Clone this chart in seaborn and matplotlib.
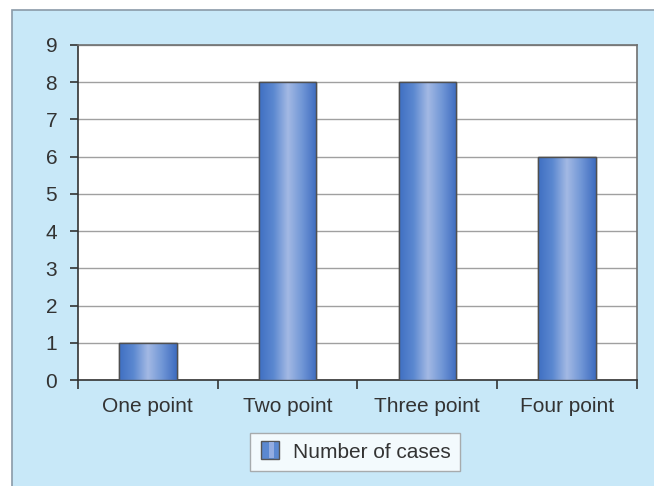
import numpy as np
import pandas as pd
import matplotlib
matplotlib.use("Agg")
import matplotlib.pyplot as plt
from matplotlib.patches import Rectangle
from matplotlib.colors import LinearSegmentedColormap
from matplotlib.legend_handler import HandlerBase
import seaborn as sns

categories = ["One point", "Two point", "Three point", "Four point"]
cases = [1, 8, 8, 6]
series_name = "Number of cases"
y_ticks = list(range(0, 10))

sns.set_theme(style="white")
plt.rcParams["font.family"] = ["Liberation Sans", "DejaVu Sans"]

PANEL = "#c8e8f8"
TEXT = "#333333"
bar_cmap = LinearSegmentedColormap.from_list(
    "cyl", ["#3f6fc2", "#5b88d0", "#a3b9e4", "#7096d6", "#3d6bbf"])

fig = plt.figure(figsize=(6.54, 4.86), dpi=100, facecolor="white")
# light blue panel behind the chart, running off the right and bottom edges
fig.patches.append(Rectangle((12 / 654, -0.1), 1, 1.1 - 10 / 486, transform=fig.transFigure,
                             facecolor=PANEL, edgecolor="#8a9aa8", linewidth=1.2,
                             zorder=-10))

ax = fig.add_axes([78 / 654, 106 / 486, 559 / 654, 335 / 486])
df = pd.DataFrame({"category": categories, "cases": cases})
sns.barplot(data=df, x="category", y="cases", ax=ax, width=0.41,
            color="#5b88d0", edgecolor="#555555", linewidth=1.0, zorder=3)

# cylinder-style horizontal gradient on every bar
grad = np.linspace(0, 1, 256).reshape(1, -1)
for p in ax.patches:
    x0, y0 = p.get_x(), p.get_y()
    w, h = p.get_width(), p.get_height()
    im = ax.imshow(grad, cmap=bar_cmap, aspect="auto",
                   extent=(x0, x0 + w, y0, y0 + h), zorder=3.5,
                   interpolation="bilinear")
    im.set_clip_path(p)
    edge = Rectangle((x0, y0), w, h, fill=False, edgecolor="#4f4f4f",
                     linewidth=1.0, zorder=4)
    ax.add_patch(edge)
    p.set_facecolor("none")

ax.set_xlim(-0.5, len(categories) - 0.5)
ax.set_ylim(0, 9)
ax.set_yticks(y_ticks)
ax.set_facecolor("white")
ax.grid(axis="y", color="#a0a0a0", linewidth=1.0, zorder=0)
ax.set_axisbelow(True)
ax.set_xlabel("")
ax.set_ylabel("")

for side in ["left", "bottom"]:
    ax.spines[side].set_color("#333333")
    ax.spines[side].set_linewidth(1.2)
for side in ["top", "right"]:
    ax.spines[side].set_color("#707070")
    ax.spines[side].set_linewidth(1.2)

ax.tick_params(axis="y", length=6, width=1.2, color="#333333", pad=9,
               labelsize=15, labelcolor=TEXT, left=True)
ax.tick_params(axis="x", which="major", length=0, pad=12, labelsize=15,
               labelcolor=TEXT)
ax.set_xticks(np.arange(-0.5, len(categories)), minor=True)
ax.tick_params(axis="x", which="minor", length=6.5, width=1.2, color="#333333",
               bottom=True)


class GradientHandler(HandlerBase):
    def create_artists(self, legend, orig_handle, xdescent, ydescent,
                       width, height, fontsize, trans):
        side = height * 1.25
        x0 = xdescent * -1 + (width - side) / 2
        y0 = -ydescent + (height - side) / 2
        bg = Rectangle((x0, y0), side, side, facecolor="#5b88d0",
                       edgecolor="#555555", linewidth=1.0, transform=trans)
        stripe = Rectangle((x0 + side * 0.45, y0 + 1), side * 0.25, side - 2,
                           facecolor="#93ace0", edgecolor="none", transform=trans)
        return [bg, stripe]


handle = Rectangle((0, 0), 1, 1)
leg = fig.legend([handle], [series_name], loc="center",
                 bbox_to_anchor=(355 / 654, 34 / 486), frameon=True, fancybox=False,
                 fontsize=15, handler_map={Rectangle: GradientHandler()},
                 handlelength=1.0, handletextpad=0.6, borderpad=0.45,
                 labelcolor=TEXT)
leg.get_frame().set_edgecolor("#9a9a9a")
leg.get_frame().set_linewidth(1.0)
leg.get_frame().set_facecolor("white")

fig.savefig("out.png", dpi=100, facecolor=fig.get_facecolor())
